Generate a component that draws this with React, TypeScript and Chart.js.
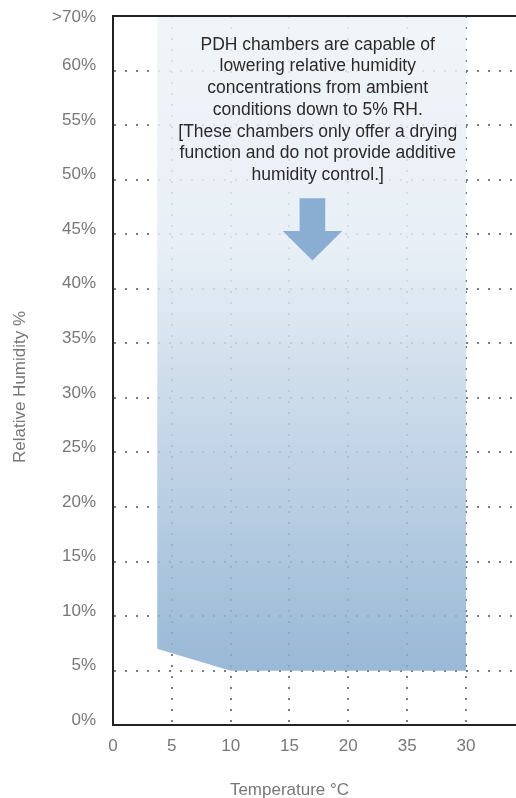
import React, { useEffect, useRef } from "react";
import { Chart, registerables } from "chart.js";

Chart.register(...registerables);

// ---- data ----
const xTickLabels = ["0", "5", "10", "15", "20", "35", "30"];
const yTickValues = [0, 5, 10, 15, 20, 25, 30, 35, 40, 45, 50, 55, 60, 65];
const yTopLabel = ">70%";
// lower boundary of the PDH drying region (x = tick index position, y = %RH)
const regionX = [0.75, 2, 6];
const regionY = [7, 5, 5];
const noteLines = [
  "PDH chambers are capable of",
  "lowering relative humidity",
  "concentrations from ambient",
  "conditions down to 5% RH.",
  "[These chambers only offer a drying",
  "function and do not provide additive",
  "humidity control.]",
];
const xTitle = "Temperature \u00B0C";
const yTitle = "Relative Humidity %";

const FONT = "'Liberation Sans', Arial, Helvetica, sans-serif";
const GRID = "#7c7c7c";

const overlayPlugin = {
  id: "overlay",
  afterDatasetsDraw(chart: any) {
    const { ctx, chartArea, scales } = chart;
    const xs = scales.x;
    const ys = scales.y;
    ctx.save();
    // arrow
    const ax = 3.39;
    const cx = xs.getPixelForValue(ax);
    const pxPerUnit = xs.getPixelForValue(1) - xs.getPixelForValue(0);
    const shaftHalf = 0.218 * pxPerUnit;
    const headHalf = 0.505 * pxPerUnit;
    const yTop = ys.getPixelForValue(48.3);
    const yNeck = ys.getPixelForValue(45.3);
    const yTip = ys.getPixelForValue(42.6);
    ctx.fillStyle = "#8aaed1";
    ctx.beginPath();
    ctx.moveTo(cx - shaftHalf, yTop);
    ctx.lineTo(cx + shaftHalf, yTop);
    ctx.lineTo(cx + shaftHalf, yNeck);
    ctx.lineTo(cx + headHalf, yNeck);
    ctx.lineTo(cx, yTip);
    ctx.lineTo(cx - headHalf, yNeck);
    ctx.lineTo(cx - shaftHalf, yNeck);
    ctx.closePath();
    ctx.fill();

    // note text
    ctx.fillStyle = "#2a2a2a";
    ctx.font = `17.5px ${FONT}`;
    ctx.textAlign = "center";
    ctx.textBaseline = "middle";
    const tx = xs.getPixelForValue(3.48);
    const ty0 = ys.getPixelForValue(62.35);
    noteLines.forEach((line, i) => {
      ctx.fillText(line, tx, ty0 + i * 21.7);
    });

    // top border
    ctx.strokeStyle = "#222";
    ctx.lineWidth = 2;
    ctx.beginPath();
    ctx.moveTo(chartArea.left - 1, chartArea.top);
    ctx.lineTo(chartArea.right, chartArea.top);
    ctx.stroke();

    // axis titles
    ctx.fillStyle = "#777";
    ctx.font = `17px ${FONT}`;
    ctx.fillText(xTitle, xs.getPixelForValue(3), chartArea.bottom + 65);
    ctx.translate(20, ys.getPixelForValue(31));
    ctx.rotate(-Math.PI / 2);
    ctx.fillText(yTitle, 0, 0);
    ctx.restore();
  },
};

export default function App() {
  const ref = useRef<HTMLCanvasElement | null>(null);

  useEffect(() => {
    if (!ref.current) return;
    const chart = new Chart(ref.current, {
      type: "line",
      data: {
        datasets: [
          {
            data: regionX.map((x, i) => ({ x, y: regionY[i] })),
            fill: "end",
            borderWidth: 0,
            pointRadius: 0,
            tension: 0,
            backgroundColor: (c: any) => {
              const ch = c.chart;
              const area = ch.chartArea;
              if (!area) return "rgba(150,180,210,0.8)";
              const bottom = ch.scales.y.getPixelForValue(5);
              const g = ch.ctx.createLinearGradient(0, area.top, 0, bottom);
              g.addColorStop(0, "rgba(238,243,248,0.85)");
              g.addColorStop(0.35, "rgba(228,236,244,0.85)");
              g.addColorStop(1, "rgba(136,173,207,0.86)");
              return g;
            },
          } as any,
        ],
      },
      options: {
        animation: false,
        responsive: true,
        maintainAspectRatio: false,
        layout: { padding: { top: 16, right: 0, left: 0, bottom: 0 } },
        plugins: { legend: { display: false }, tooltip: { enabled: false } },
        scales: {
          x: {
            type: "linear",
            min: 0,
            max: 6.85,
            afterBuildTicks: (s: any) => {
              s.ticks = xTickLabels.map((_, i) => ({ value: i }));
            },
            afterFit: (s: any) => {
              s.height = 72.8;
              s.paddingLeft = 0;
              s.paddingRight = 0;
            },
            ticks: {
              autoSkip: false,
              maxRotation: 0,
              padding: 11,
              color: "#777",
              font: { family: FONT, size: 17 },
              callback: (v: any) => xTickLabels[Math.round(Number(v))] ?? "",
            },
            grid: {
              drawTicks: false,
              lineWidth: 2,
              color: (c: any) => (c.tick && c.tick.value === 0 ? "rgba(0,0,0,0)" : GRID),
            },
            border: { display: true, color: "#222", width: 2, dash: [2, 9] } as any,
          },
          y: {
            type: "linear",
            min: 0,
            max: 65,
            afterBuildTicks: (s: any) => {
              s.ticks = yTickValues.map((v) => ({ value: v }));
            },
            afterFit: (s: any) => {
              s.width = 113;
              s.paddingTop = 0;
              s.paddingBottom = 0;
            },
            ticks: {
              padding: 17,
              labelOffset: -5,
              color: "#777",
              font: (c: any) => ({
                family: FONT,
                size: 17,
                lineHeight: c.tick && c.tick.value === 65 ? 12 / 17 : 1.2,
              }),
              callback: (v: any) => (Number(v) === 65 ? ["", yTopLabel] : `${v}%`),
            },
            grid: {
              drawTicks: false,
              lineWidth: 2,
              color: (c: any) =>
                c.tick && (c.tick.value === 0 || c.tick.value === 65) ? "rgba(0,0,0,0)" : GRID,
            },
            border: { display: true, color: "#222", width: 2, dash: [2, 9] } as any,
          },
        },
      } as any,
      plugins: [overlayPlugin],
    });
    return () => chart.destroy();
  }, []);

  return (
    <div style={{ position: "fixed", left: 0, top: 0, width: 516, height: 798, background: "#fff" }}>
      <canvas ref={ref} />
    </div>
  );
}
